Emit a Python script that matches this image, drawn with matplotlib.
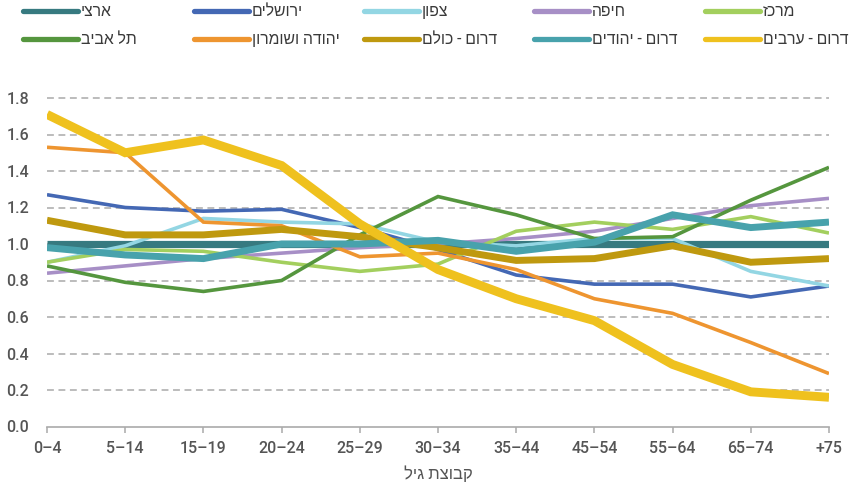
import numpy as np
import matplotlib
matplotlib.use("Agg")
import matplotlib.pyplot as plt

plt.rcParams['font.family'] = ['Roboto', 'Liberation Sans', 'DejaVu Sans']

age_groups = ["0–4", "5–14", "15–19", "20–24", "25–29", "30–34",
              "35–44", "45–54", "55–64", "65–74", "+75"]

national   = [1.00, 1.00, 1.00, 1.00, 1.00, 1.00, 1.00, 1.00, 1.00, 1.00, 1.00]
jerusalem  = [1.27, 1.20, 1.18, 1.19, 1.09, 0.97, 0.83, 0.78, 0.78, 0.71, 0.77]
north      = [0.90, 0.99, 1.14, 1.12, 1.11, 1.01, 0.99, 1.03, 1.03, 0.85, 0.77]
haifa      = [0.84, 0.88, 0.92, 0.95, 0.98, 1.00, 1.03, 1.07, 1.14, 1.21, 1.25]
center     = [0.90, 0.97, 0.96, 0.90, 0.85, 0.89, 1.07, 1.12, 1.08, 1.15, 1.06]
tel_aviv   = [0.88, 0.79, 0.74, 0.80, 1.05, 1.26, 1.16, 1.03, 1.04, 1.24, 1.42]
judea      = [1.53, 1.50, 1.12, 1.10, 0.93, 0.95, 0.86, 0.70, 0.62, 0.46, 0.29]
south_all  = [1.13, 1.05, 1.05, 1.08, 1.04, 0.98, 0.91, 0.92, 0.99, 0.90, 0.92]
south_jews = [0.98, 0.94, 0.92, 1.00, 1.00, 1.02, 0.96, 1.01, 1.16, 1.09, 1.12]
south_arab = [1.71, 1.50, 1.57, 1.43, 1.11, 0.86, 0.70, 0.58, 0.34, 0.19, 0.16]

names = ["ארצי", "ירושלים", "צפון", "חיפה", "מרכז",
         "תל אביב", "יהודה ושומרון", "דרום - כולם", "דרום - יהודים", "דרום - ערבים"]
series = [national, jerusalem, north, haifa, center,
          tel_aviv, judea, south_all, south_jews, south_arab]
colors = ["#377A80", "#4468B4", "#93D6E3", "#A78FC6", "#A3CF5E",
          "#55963E", "#EE9530", "#BF990F", "#48A2AC", "#EFC11E"]
widths = [5.2, 2.6, 2.6, 2.6, 2.6, 2.6, 2.6, 5.0, 5.0, 6.4]

x_label = "קבוצת גיל"


def rtl(s):
    # matplotlib has no bidi support, so flip Hebrew strings for display
    return s[::-1]


fig = plt.figure(figsize=(8.51, 4.87), dpi=100)
ax = fig.add_axes([47 / 851, 1 - 426.5 / 487, (829 - 47) / 851, (426.5 - 98) / 487])

x = np.arange(len(age_groups))
lines = []
for vals, name, col, lw in zip(series, names, colors, widths):
    ln, = ax.plot(x, vals, color=col, lw=lw, label=rtl(name),
                  solid_joinstyle='miter', solid_capstyle='butt')
    lines.append(ln)

ax.set_xlim(0, len(age_groups) - 1)
ax.set_ylim(0, 1.8)
ax.set_yticks(np.arange(0, 1.81, 0.2))
ax.set_yticklabels([f"{v:.1f}" for v in np.arange(0, 1.81, 0.2)], fontweight="medium")
ax.set_xticks(x)
ax.set_xticklabels(age_groups, fontweight="medium")

for v in np.arange(0.2, 1.81, 0.2):
    ax.axhline(v, color="#AAAAAA", lw=1.1, ls=(0, (4.5, 3)), zorder=0.5, clip_on=False)

for side in ["top", "right", "left"]:
    ax.spines[side].set_visible(False)
ax.spines["bottom"].set_color("#AAAAAA")
ax.spines["bottom"].set_linewidth(1.2)

ax.tick_params(axis="y", length=0, pad=13, labelsize=11.5, labelcolor="#555555")
ax.tick_params(axis="x", length=4.5, width=1.1, color="#AAAAAA", pad=6,
               labelsize=11.5, labelcolor="#555555")

ax.set_xlabel(rtl(x_label), fontsize=12, color="#555555", labelpad=7)

# legend: five columns of two entries each, evenly spaced
col_x = [23, 194, 364, 534, 705]
for c in range(5):
    pair = [lines[c], lines[c + 5]]
    leg = fig.legend(pair, [ln.get_label() for ln in pair], loc="upper left",
                     bbox_to_anchor=(col_x[c] / 851, 1 - 4 / 487),
                     frameon=False, fontsize=11.3, handlelength=3.5,
                     handletextpad=0.2, labelspacing=0.85, borderpad=0,
                     borderaxespad=0)
    for t in leg.get_texts():
        t.set_color("#3A3A3A")
    for h in leg.legend_handles:
        h.set_linewidth(3.8)
        h.set_solid_capstyle("round")

fig.savefig("out.png", dpi=100)
